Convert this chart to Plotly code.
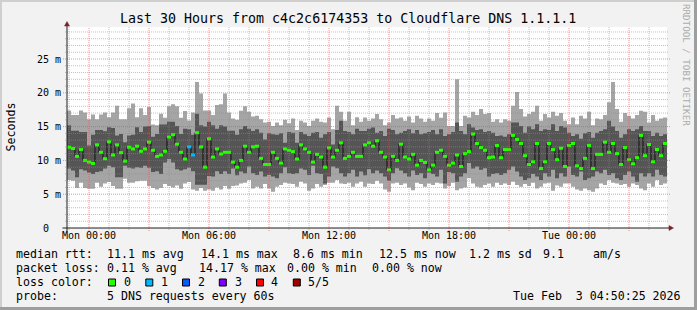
import plotly.graph_objects as go
from datetime import datetime, timedelta

# ---------------- data ----------------
START = datetime(2026, 2, 1, 22, 54)   # left edge of the graph
STEP_MIN = 12                            # minutes per consolidated step

median = [11.95, 11.75, 10.6, 11.6, 10.0, 9.75, 9.55, 12.3, 11.2, 10.25, 12.75, 10.8, 12.3, 11.15, 9.9,
          11.95, 11.7, 12.1, 11.35, 11.7, 12.7, 11.5, 10.6, 10.8, 11.35,
          13.45, 13.8, 12.4, 11.2, 10.2, 12.0, 10.8, 14.1, 12.0, 9.0, 13.2, 10.5, 11.7, 10.95, 11.2,
          11.2, 9.75, 9.0, 10.0, 12.1, 11.2, 12.0, 12.1, 10.3, 9.4,
          9.4, 11.2, 10.3, 9.6, 11.7, 11.5, 11.3, 10.2, 12.3, 11.7, 11.2, 9.75, 10.9, 10.5, 9.0,
          11.85, 10.5, 11.5, 12.6, 10.3, 10.6, 11.2, 10.6, 10.6, 12.3,
          12.6, 12.1, 12.9, 11.2, 10.5, 8.6, 10.6, 10.0, 12.4, 10.5, 10.2, 10.9, 9.3, 10.0, 9.7,
          8.6, 9.3, 11.2, 11.5, 10.6, 9.3, 9.6, 10.8, 9.1,
          11.0, 11.3, 13.9, 12.5, 11.9, 11.5, 10.4, 10.5, 12.2, 10.4, 11.6, 11.6, 13.7, 13.1, 12.5,
          10.7, 9.4, 9.8, 12.5, 8.8, 9.8, 12.5, 11.6, 10.1, 11.8, 9.1, 12.2, 12.5, 9.2, 8.8,
          10.3, 12.2, 8.8, 10.9, 10.9, 12.7, 11.2, 12.5, 11.0, 9.4, 11.9, 10.1, 9.5, 10.4, 13.7,
          10.7, 12.35, 9.8, 11.6, 10.7, 12.5]

light_top = [17.4, 16.7, 16.7, 17.4, 17.1, 16.1, 16.8, 16.1, 16.8, 17.1, 16.4, 17.1, 18.1, 16.1, 16.1,
             17.7, 18.4, 16.4, 17.7, 16.7, 17.9, 15.3, 15.2, 16.9, 16.3, 18.0, 18.3, 18.0, 16.3, 17.3,
             15.9, 17.1, 21.6, 19.9, 17.4, 17.4, 16.7, 18.2, 18.3, 19.9, 17.1, 16.2, 16.0,
             17.35, 18.0, 17.2, 16.5, 16.6, 16.1, 15.6,
             15.7, 15.1, 15.6, 15.2, 16.0, 15.5, 16.2, 14.5, 15.85, 15.6, 15.1, 15.85, 16.2, 15.7, 15.6,
             16.35, 14.6, 18.1, 17.2, 15.85, 17.2, 15.2, 16.4, 15.7, 16.35,
             15.85, 16.2, 16.85, 16.1, 15.2, 15.6, 16.7, 16.2, 16.35, 15.85, 16.5, 15.6, 16.6, 16.2, 15.7,
             16.2, 15.85, 17.0, 16.3, 17.1, 15.1, 15.1, 22.0, 15.1, 16.6,
             16.35, 17.2, 16.7, 17.6, 16.85, 17.0, 15.7, 16.1, 15.6, 16.1, 15.85, 18.1, 20.1, 17.6, 16.5,
             16.85, 17.2, 18.1, 15.85, 16.85, 16.35, 17.2, 16.6, 17.0, 15.85,
             15.35, 16.35, 15.35, 16.6, 16.2, 17.2, 15.2, 16.2, 16.1, 16.7, 18.6, 21.6, 17.6, 15.7, 17.0,
             16.6, 16.2, 16.7, 17.35, 17.2, 15.6, 16.7, 15.85, 16.2, 16.35]

dark_top = [15.2, 14.4, 14.4, 14.2, 14.2, 12.2, 13.8, 14.5, 14.5, 14.3, 14.9, 14.8, 13.7, 13.9, 12.7,
            13.7, 13.8, 14.9, 14.2, 15.0, 15.1, 13.5, 13.9, 15.3, 15.3, 15.7, 15.7, 15.1, 13.9, 14.7,
            14.6, 13.8, 16.9, 15.2, 15.0, 15.7, 15.2, 14.7, 15.2, 15.0, 14.4, 14.4, 13.8,
            14.6, 15.1, 14.7, 14.35, 14.6, 14.1, 13.1,
            14.0, 13.85, 13.8, 14.0, 12.6, 14.2, 14.1, 12.6, 14.2, 13.85, 13.6, 14.1, 14.2, 13.35, 13.85,
            14.2, 12.35, 14.5, 15.85, 14.35, 14.2, 13.85, 14.7, 14.35, 14.35,
            14.7, 14.85, 14.1, 14.35, 13.6, 14.7, 14.5, 13.85, 14.1, 14.35, 14.6, 14.0, 14.5, 13.85, 14.0,
            14.2, 14.5, 13.85, 14.6, 13.6, 13.85, 14.2, 15.6, 14.35, 13.85,
            15.35, 14.85, 14.5, 14.6, 14.2, 14.35, 14.1, 13.6, 13.7, 13.5, 13.85, 15.6, 15.6, 15.1, 14.1,
            15.0, 14.6, 15.35, 14.35, 14.6, 14.5, 15.35, 14.35, 15.1, 14.85,
            14.1, 13.6, 13.85, 13.2, 14.0, 14.2, 13.35, 14.1, 14.35, 14.6, 15.85, 15.0, 14.35, 13.35, 13.85,
            14.6, 14.35, 14.6, 15.1, 14.35, 14.35, 13.6, 14.1, 13.6, 13.85]

dark_bot = [8.8, 8.5, 7.5, 8.7, 8.5, 8.2, 8.0, 8.3, 8.4, 8.8, 9.2, 9.0, 7.5, 7.5, 9.2,
            8.9, 8.8, 9.0, 8.9, 9.2, 8.9, 8.3, 8.4, 8.0, 9.7, 10.2, 9.7, 8.7, 8.5, 8.7,
            8.9, 8.4, 6.4, 6.4, 6.4, 7.7, 7.6, 8.4, 8.0, 8.4, 8.0, 8.8, 7.8,
            8.35, 8.1, 9.1, 8.1, 7.85, 8.35, 7.6,
            7.85, 7.6, 7.35, 8.1, 9.0, 8.1, 8.0, 8.1, 8.8, 8.6, 7.85, 9.2, 8.1, 8.0, 6.6,
            7.6, 9.1, 8.85, 8.1, 7.6, 8.1, 8.6, 7.6, 8.35, 7.8,
            8.7, 8.1, 8.5, 8.1, 7.6, 7.0, 8.1, 8.85, 8.5, 8.1, 7.6, 8.5, 7.85, 8.1, 7.35,
            8.2, 8.0, 7.6, 8.6, 6.6, 8.3, 8.1, 6.85, 7.6, 8.1,
            9.6, 8.8, 9.1, 8.6, 8.85, 7.6, 8.0, 8.1, 7.85, 8.1, 8.6, 9.1, 8.35, 7.6, 7.1,
            7.35, 8.0, 7.6, 7.1, 8.1, 7.6, 8.6, 7.35, 8.1, 7.6,
            9.1, 7.85, 7.6, 8.35, 7.1, 7.35, 7.6, 8.35, 8.1, 8.6, 7.85, 8.1, 7.35, 7.1, 7.85,
            8.35, 7.6, 6.85, 8.1, 7.6, 8.1, 7.6, 8.6, 7.85, 7.6]

light_bot = [7.1, 7.0, 5.9, 6.7, 5.9, 5.8, 5.8, 6.7, 6.1, 6.6, 6.8, 6.2, 5.8, 5.8, 7.3,
             6.7, 6.7, 6.9, 7.0, 7.0, 6.2, 5.9, 5.7, 5.9, 6.5, 6.2, 6.0, 6.3, 5.8, 6.6,
             6.8, 5.7, 5.5, 5.9, 5.5, 5.7, 5.5, 6.0, 5.7, 6.2, 5.8, 6.2, 6.3,
             6.6, 6.7, 7.1, 5.85, 6.1, 5.85, 6.5,
             5.85, 5.35, 6.1, 6.35, 6.7, 6.6, 6.5, 6.1, 6.85, 6.6, 5.5, 5.85, 6.5, 6.1, 6.35,
             6.7, 6.7, 7.1, 6.6, 6.5, 6.7, 6.1, 6.6, 6.85, 6.1,
             6.6, 6.5, 7.0, 6.6, 5.7, 5.35, 6.6, 6.7, 6.35, 6.6, 6.0, 5.6, 6.7, 6.5, 6.1,
             6.6, 6.35, 6.7, 6.6, 5.85, 6.2, 6.7, 5.6, 5.85, 6.0,
             7.35, 6.6, 6.1, 6.0, 6.35, 6.6, 6.1, 6.7, 6.35, 6.6, 6.35, 6.85, 6.35, 6.1, 6.5,
             6.2, 6.7, 5.85, 6.1, 6.6, 6.7, 5.5, 6.3, 6.1, 6.6,
             6.6, 6.1, 5.7, 5.5, 5.85, 5.6, 5.35, 5.85, 6.6, 6.35, 7.1, 6.7, 6.6, 6.35, 6.5,
             6.1, 6.6, 6.35, 5.85, 5.6, 6.6, 6.1, 7.1, 6.35, 6.6]

# loss colour class per step (0 = no loss, 1 = one of five)
loss_class = [0] * 30 + [1, 1] + [0] * 118

tick_labels_x = ["Mon 00:00", "Mon 06:00", "Mon 12:00", "Mon 18:00", "Tue 00:00"]
tick_times_x = [datetime(2026, 2, 2, 0), datetime(2026, 2, 2, 6), datetime(2026, 2, 2, 12),
                datetime(2026, 2, 2, 18), datetime(2026, 2, 3, 0)]
tick_vals_y = [0, 5, 10, 15, 20, 25]
tick_text_y = ["0\u00a0\u00a0", "5 m", "10 m", "15 m", "20 m", "25 m"]

loss_colors = ["#26ff00", "#00b8ff", "#0059ff", "#7e00ff", "#ff0000", "#a00000"]
loss_labels = ["0", "1", "2", "3", "4", "5/5"]

title = "Last 30 Hours from c4c2c6174353 to Cloudflare DNS 1.1.1.1"
rtt_stats = ["11.1 ms avg", "14.1 ms max", "8.6 ms min", "12.5 ms now", "1.2 ms sd", "9.1", "am/s"]
loss_stats = ["0.11 % avg", "14.17 % max", "0.00 % min", "0.00 % now"]
probe_text = "5 DNS requests every 60s"
stamp_text = "Tue Feb\u00a0\u00a03 04:50:25 2026"

# ---------------- geometry ----------------
WIDTH, HEIGHT = 697, 310
PL, PR, PT, PB = 67, 667, 27, 228
PW, PH = PR - PL, PB - PT
YMAX = PH / 6.76
FONT = "DejaVu Sans Mono"

N = len(median)
times = [START + timedelta(minutes=STEP_MIN * i) for i in range(N + 1)]
t_end = times[-1]


def ext(v):
    return list(v) + [v[-1]]


fig = go.Figure()
LIGHT = "#a5a5a5"
DARK = "#555555"
fig.add_trace(go.Scatter(x=times, y=ext(light_bot), mode="lines", line=dict(width=0, shape="hv"),
                         hoverinfo="skip", showlegend=False))
fig.add_trace(go.Scatter(x=times, y=ext(light_top), mode="lines", line=dict(width=0, shape="hv"),
                         fill="tonexty", fillcolor=LIGHT, hoverinfo="skip", showlegend=False))
fig.add_trace(go.Scatter(x=times, y=ext(dark_bot), mode="lines", line=dict(width=0, shape="hv"),
                         hoverinfo="skip", showlegend=False))
fig.add_trace(go.Scatter(x=times, y=ext(dark_top), mode="lines", line=dict(width=0, shape="hv"),
                         fill="tonexty", fillcolor=DARK, hoverinfo="skip", showlegend=False))
# thin black connector of the median
fig.add_trace(go.Scatter(x=times, y=ext(median), mode="lines", line=dict(width=1, color="#101010", shape="hv"),
                         hoverinfo="skip", showlegend=False))
# coloured median segments by loss class
for cls in sorted(set(loss_class)):
    xs, ys = [], []
    for i in range(N):
        if loss_class[i] == cls:
            xs += [times[i], times[i + 1], None]
            ys += [median[i], median[i], None]
    fig.add_trace(go.Scatter(x=xs, y=ys, mode="lines", line=dict(width=3, color=loss_colors[cls]),
                             hoverinfo="skip", showlegend=False, connectgaps=False))

shapes = []
MINOR = "rgba(143,143,143,0.55)"
MAJOR = "rgba(222,79,79,0.6)"
DASH = "1px,1px"

# vertical grid
h = START.replace(minute=0, second=0) + timedelta(hours=1)
while h < t_end:
    major = (h.hour % 3 == 0)
    shapes.append(dict(type="line", xref="x", yref="paper", x0=h, x1=h,
                       y0=-(3 if major else 2) / PH, y1=1, layer="above",
                       line=dict(color=MAJOR if major else MINOR, width=1, dash=DASH)))
    h += timedelta(hours=1)
# horizontal grid
for v in range(1, int(YMAX) + 1):
    major = (v % 5 == 0)
    e = (4 if major else 2) / PW
    shapes.append(dict(type="line", xref="paper", yref="y", x0=-e, x1=1 + e, y0=v, y1=v, layer="above",
                       line=dict(color=MAJOR if major else MINOR, width=1, dash=DASH)))


def px(x):
    return (x - PL) / PW


def py(y):
    return (PB - y) / PH


AXIS = "#1f1f1f"
ARROW = "#801f1f"
shapes.append(dict(type="line", xref="paper", yref="paper", x0=px(62.5), x1=px(669.5), y0=py(228), y1=py(228),
                   line=dict(color=AXIS, width=1), layer="above"))
shapes.append(dict(type="line", xref="paper", yref="paper", x0=px(67), x1=px(67), y0=py(231), y1=py(25.5),
                   line=dict(color=AXIS, width=1), layer="above"))
shapes.append(dict(type="path", xref="paper", yref="paper",
                   path=f"M {px(673.5)},{py(228)} L {px(669)},{py(225.5)} L {px(669)},{py(230.5)} Z",
                   fillcolor=ARROW, line=dict(color=ARROW, width=0.5), layer="above"))
shapes.append(dict(type="path", xref="paper", yref="paper",
                   path=f"M {px(67)},{py(21.5)} L {px(64.5)},{py(26)} L {px(69.5)},{py(26)} Z",
                   fillcolor=ARROW, line=dict(color=ARROW, width=0.5), layer="above"))

# 3-D frame of the image
shapes.append(dict(type="rect", xref="paper", yref="paper", x0=px(0), x1=px(697), y0=py(0), y1=py(2),
                   fillcolor="#cfcfcf", line=dict(width=0)))
shapes.append(dict(type="rect", xref="paper", yref="paper", x0=px(0), x1=px(2), y0=py(0), y1=py(310),
                   fillcolor="#cfcfcf", line=dict(width=0)))
shapes.append(dict(type="rect", xref="paper", yref="paper", x0=px(0), x1=px(697), y0=py(307), y1=py(310),
                   fillcolor="#9e9e9e", line=dict(width=0)))
shapes.append(dict(type="rect", xref="paper", yref="paper", x0=px(694), x1=px(697), y0=py(0), y1=py(310),
                   fillcolor="#9e9e9e", line=dict(width=0)))

# legend colour boxes
box_left = [108.5, 145.8, 182.5, 219.3, 256.5, 293.3]
label_left = [124, 161.3, 198, 235.3, 271.3, 308]
for bx, c in zip(box_left, loss_colors):
    shapes.append(dict(type="rect", xref="paper", yref="paper", x0=px(bx), x1=px(bx + 7), y0=py(279), y1=py(286),
                       fillcolor=c, line=dict(color="#000000", width=1)))

annotations = []


def ann(text, x, y, size, xanchor="left", color="#000000", angle=0):
    annotations.append(dict(text=text, x=px(x), y=py(y), xref="paper", yref="paper", xanchor=xanchor,
                            yanchor="middle", showarrow=False, borderpad=0, borderwidth=0, textangle=angle,
                            font=dict(family=FONT, size=size, color=color)))


ann(title, 348, 19, 13.3, xanchor="center")
ann("Seconds", 10.5, 127, 11.6, xanchor="center", angle=-90)
ann("RRDTOOL / TOBI OETIKER", 687, 65, 9.2, xanchor="center", color="#ababab", angle=90)

LS = 11.6
rtt_x = [107.3, 200.7, 292.7, 379.3, 468.7, 542.7, 593.3]
ann("median rtt:", 16, 254.3, LS)
for t, x in zip(rtt_stats, rtt_x):
    ann(t, x, 254.3, LS)
loss_x = [107.3, 199.3, 286.7, 372]
ann("packet loss:", 16, 268, LS)
for t, x in zip(loss_stats, loss_x):
    ann(t, x, 268, LS)
ann("loss color:", 16, 282.3, LS)
for t, x in zip(loss_labels, label_left):
    ann(t, x, 282.3, LS)
ann("probe:", 16, 296, LS)
ann(probe_text, 107.3, 296, LS)
ann(stamp_text, 681, 296, LS, xanchor="right")

fig.update_layout(
    width=WIDTH, height=HEIGHT, autosize=False,
    margin=dict(l=PL, r=WIDTH - PR, t=PT, b=HEIGHT - PB, pad=0),
    paper_bgcolor="#f2f2f2", plot_bgcolor="#ffffff",
    font=dict(family=FONT, size=10, color="#000000"),
    showlegend=False, hovermode=False,
    shapes=shapes, annotations=annotations,
    xaxis=dict(type="date", range=[START, t_end], tickmode="array", tickvals=tick_times_x,
               ticktext=tick_labels_x, showgrid=False, zeroline=False, showline=False, ticks="",
               tickfont=dict(family=FONT, size=10, color="#000000"), fixedrange=True),
    yaxis=dict(range=[0, YMAX], tickmode="array", tickvals=tick_vals_y, ticktext=tick_text_y,
               showgrid=False, zeroline=False, showline=False, ticks="", ticklabelstandoff=5,
               tickfont=dict(family=FONT, size=10, color="#000000"), fixedrange=True),
)

fig.write_html("out.html", config={"displayModeBar": False, "staticPlot": True})
